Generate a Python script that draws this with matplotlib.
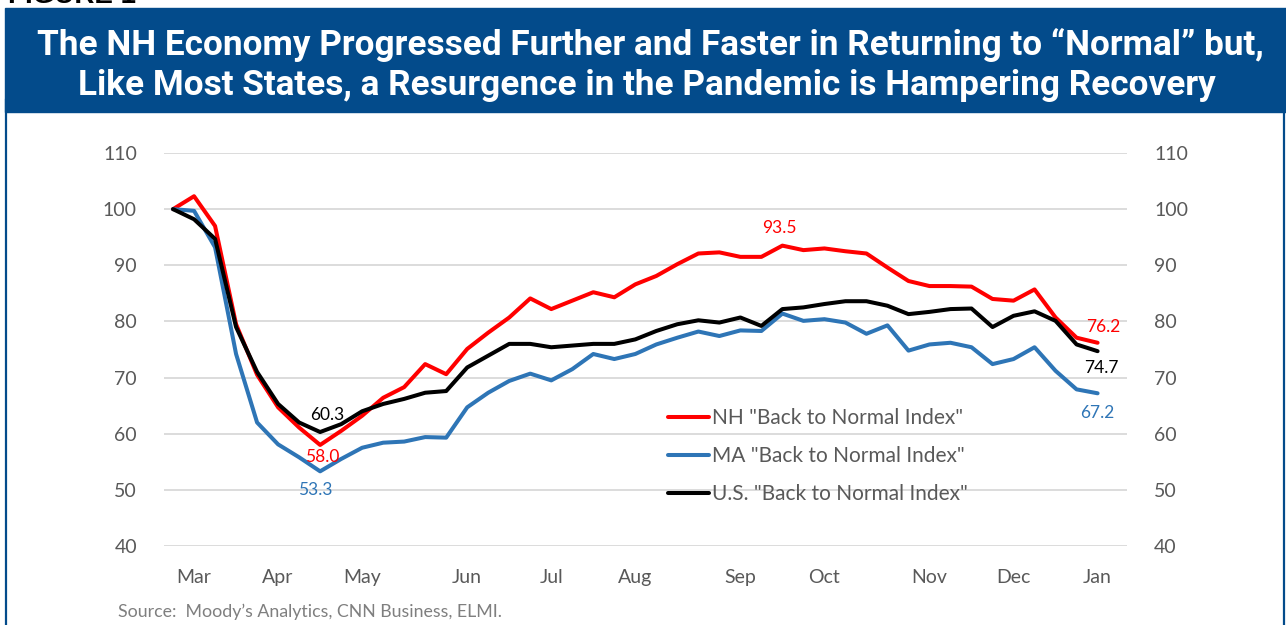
import numpy as np
import matplotlib.pyplot as plt
from matplotlib.patches import Rectangle
from matplotlib.lines import Line2D

# weekly index values, Mar 2020 -> Jan 2021
nh = [100.0, 102.3, 97.0, 79.5, 70.5, 64.7, 61.1, 58.0, 60.5, 63.2,
      66.4, 68.3, 72.4, 70.6, 75.1, 78.0, 80.7, 84.1, 82.2, 83.7,
      85.2, 84.3, 86.6, 88.1, 90.2, 92.1, 92.3, 91.5, 91.5, 93.5,
      92.7, 93.0, 92.5, 92.1, 89.6, 87.2, 86.3, 86.3, 86.2, 84.0,
      83.7, 85.7, 80.7, 77.1, 76.2]
ma = [100.0, 99.7, 93.2, 74.2, 62.0, 58.1, 55.8, 53.3, 55.5, 57.5,
      58.4, 58.6, 59.4, 59.3, 64.7, 67.3, 69.4, 70.7, 69.5, 71.5,
      74.2, 73.3, 74.2, 75.9, 77.1, 78.2, 77.4, 78.4, 78.3, 81.4,
      80.1, 80.4, 79.8, 77.8, 79.3, 74.8, 75.9, 76.2, 75.4, 72.4,
      73.3, 75.4, 71.2, 67.9, 67.2]
us = [100.0, 98.2, 94.7, 79.0, 71.0, 65.3, 62.0, 60.3, 61.7, 64.0,
      65.3, 66.2, 67.3, 67.6, 71.8, 73.9, 76.0, 76.0, 75.4, 75.7,
      76.0, 76.0, 76.8, 78.3, 79.5, 80.2, 79.8, 80.7, 79.2, 82.2,
      82.5, 83.1, 83.6, 83.6, 82.8, 81.3, 81.7, 82.2, 82.3, 79.0,
      81.0, 81.8, 80.1, 75.9, 74.7]

months = ["Mar", "Apr", "May", "Jun", "Jul", "Aug", "Sep", "Oct", "Nov", "Dec", "Jan"]
month_weeks = [1, 5, 9, 14, 18, 22, 27, 31, 36, 40, 44]
yticks = [40, 50, 60, 70, 80, 90, 100, 110]

labels = ['NH "Back to Normal Index"', 'MA "Back to Normal Index"',
          'U.S. "Back to Normal Index"']

RED = "#FF0000"
BLUE = "#2E75B6"
HEADER = "#034B8B"
GRAY = "#595959"

plt.rcParams['font.family'] = ['Lato', 'DejaVu Sans']

W, H = 1286, 625
fig = plt.figure(figsize=(W / 100, H / 100), dpi=100)

# header band + border
fig.patches.append(Rectangle((5 / W, 1 - 112 / H), 1281 / W, 104 / H,
                             transform=fig.transFigure, color=HEADER, zorder=0))
for xp in (5.5, 1284):
    fig.lines.append(Line2D([xp / W, xp / W], [0, 1 - 100 / H],
                            transform=fig.transFigure, color=HEADER, lw=1.6))
fig.text(8 / W, 1 - 3 / H, "FIGURE 1", fontsize=20, fontweight='bold',
         family='Liberation Sans', va='baseline', ha='left', color='black')
fig.text(0.506, 1 - 45 / H, "The NH Economy Progressed Further and Faster in Returning to \u201cNormal\u201d but,",
         family='Roboto', fontweight='bold', fontsize=25.3, color='white', ha='center', va='center')
fig.text(0.503, 1 - 86 / H, "Like Most States, a Resurgence in the Pandemic is Hampering Recovery",
         family='Roboto', fontweight='bold', fontsize=25.3, color='white', ha='center', va='center')

ax = fig.add_axes([164 / W, 1 - 546 / H, (1127 - 164) / W, (546 - 153) / H])
weeks = np.arange(len(nh))
l1, = ax.plot(weeks, nh, color=RED, lw=2.9, solid_joinstyle='round', solid_capstyle='round', zorder=3)
l2, = ax.plot(weeks, ma, color=BLUE, lw=2.9, solid_joinstyle='round', solid_capstyle='round', zorder=4)
l3, = ax.plot(weeks, us, color='black', lw=2.9, solid_joinstyle='round', solid_capstyle='round', zorder=5)

ax.set_xlim(-0.43, 45.4)
ax.set_ylim(40, 110)
ax.set_yticks(yticks)
ax.set_xticks(month_weeks)
ax.set_xticklabels(months)
ax.grid(axis='y', color='#D9D9D9', lw=1.3)
ax.set_axisbelow(True)
for s in ax.spines.values():
    s.set_visible(False)
ax.tick_params(axis='y', left=False, right=False, labelleft=True, labelright=True,
               labelsize=14, labelcolor=GRAY, pad=16)
ax.tick_params(axis='x', bottom=False, labelsize=14, labelcolor=GRAY, pad=13)

# data labels
notes = [(us, 7, "60.3", 'black', (7, 17)),
         (nh, 7, "58.0", RED, (2, -12)),
         (ma, 7, "53.3", BLUE, (-5, -19)),
         (nh, 29, "93.5", RED, (-3, 18)),
         (nh, 44, "76.2", RED, (6, 16)),
         (us, 44, "74.7", 'black', (4, -17)),
         (ma, 44, "67.2", BLUE, (0, -20))]
for series, i, txt, c, off in notes:
    ax.annotate(txt, (weeks[i], series[i]), xytext=off, textcoords='offset pixels',
                ha='center', va='center', fontsize=12.5, color=c, zorder=6)

ax.legend([l1, l2, l3], labels, loc='upper left', frameon=False,
          bbox_to_anchor=(668 / W, 1 - 408 / H), bbox_transform=fig.transFigure,
          borderpad=0, borderaxespad=0, handlelength=1.95, handletextpad=0.15,
          labelspacing=0.86, fontsize=15, labelcolor=GRAY)

fig.text(118 / W, 1 - 612 / H, "Source:  Moody\u2019s Analytics, CNN Business, ELMI.",
         fontsize=12.8, color='#7F7F7F', ha='left', va='center')

fig.savefig("out.png", dpi=100)
